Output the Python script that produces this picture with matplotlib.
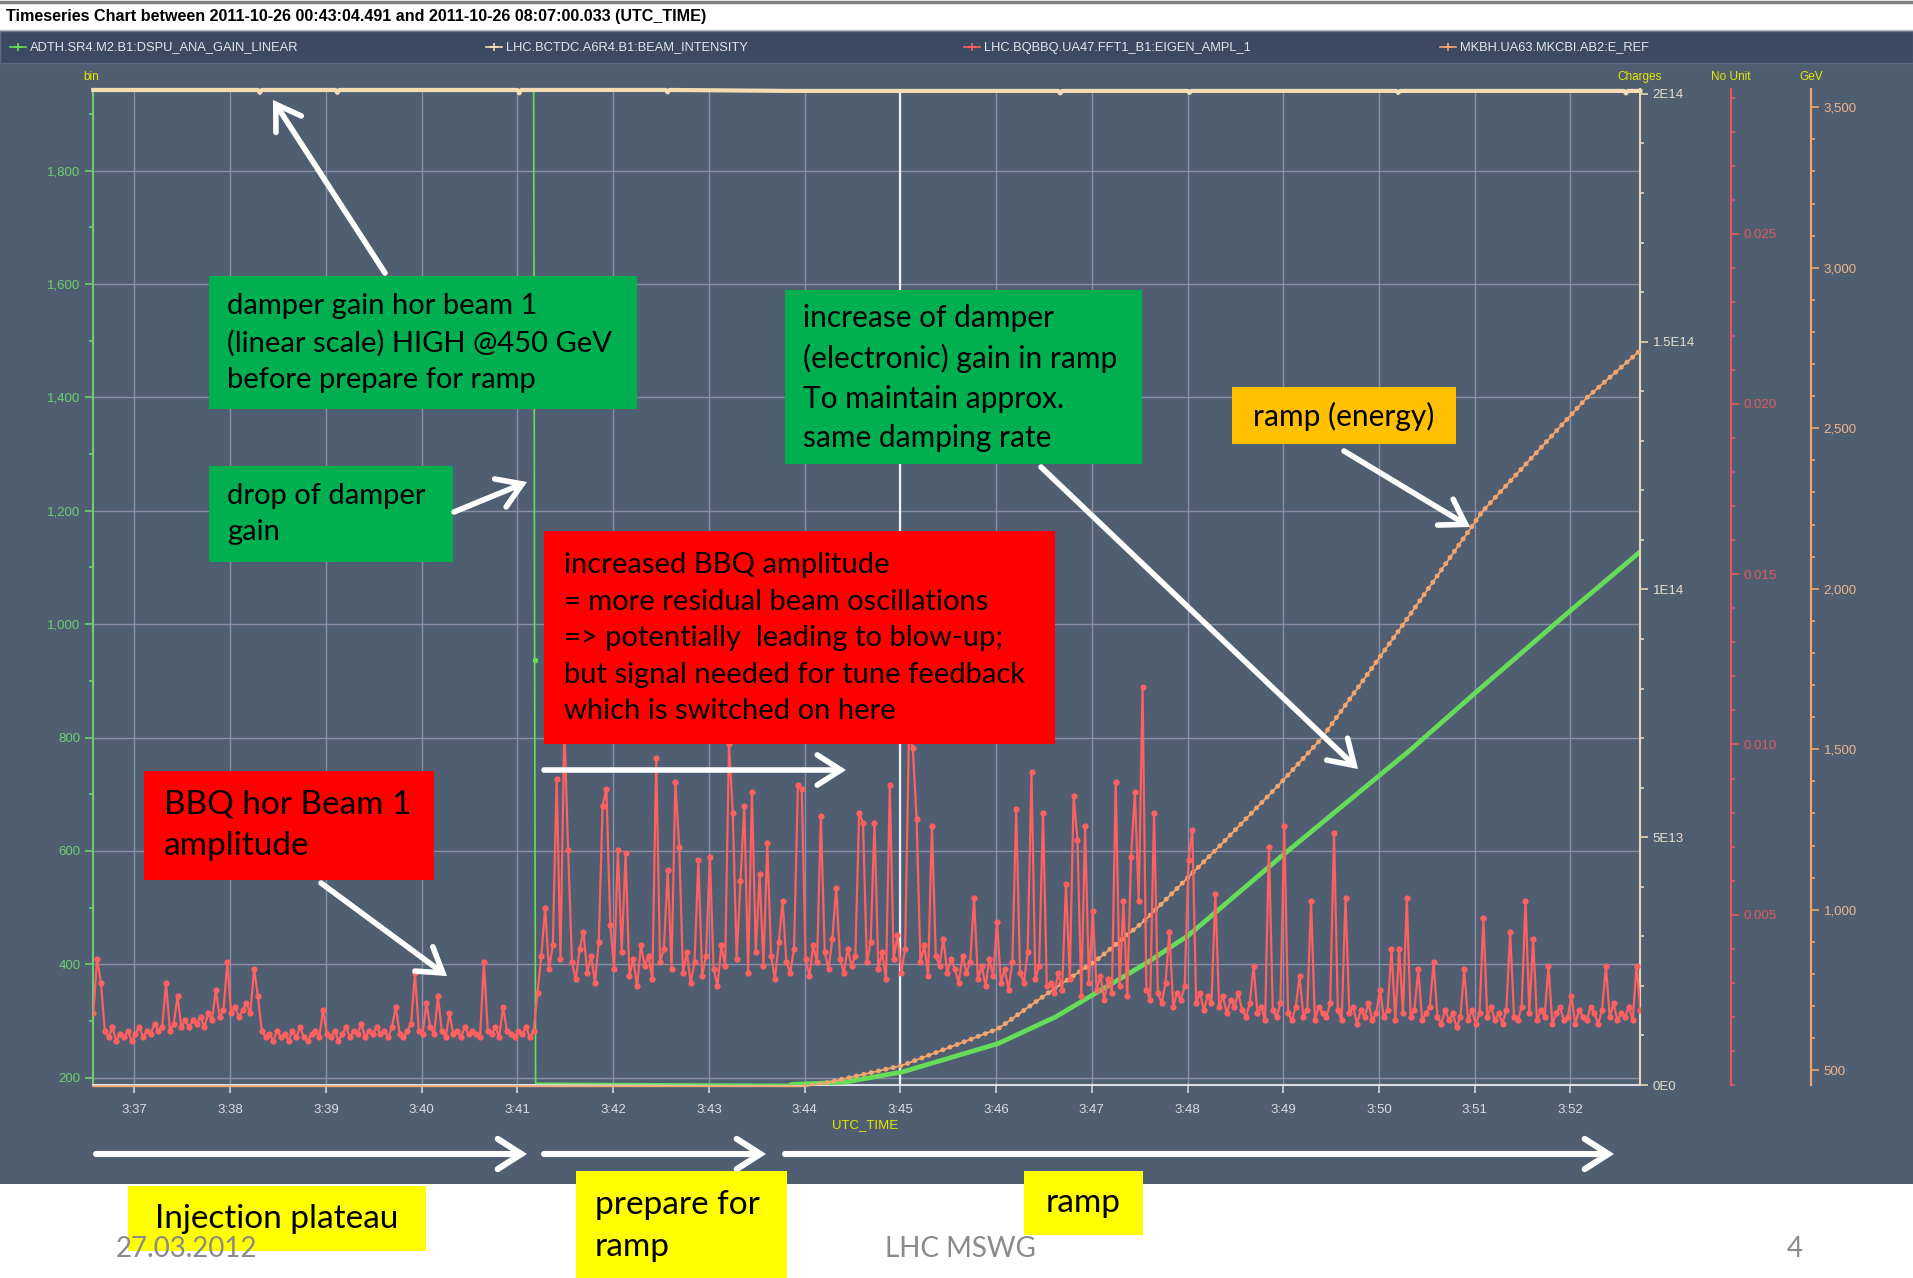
import numpy as np
import matplotlib.pyplot as plt
from matplotlib.patches import Rectangle, FancyArrowPatch
from matplotlib.lines import Line2D
from matplotlib.ticker import MultipleLocator, FuncFormatter

NARROW = ['Liberation Sans Narrow', 'Liberation Sans', 'DejaVu Sans']
SLIDE = ['Lato', 'DejaVu Sans']
plt.rcParams['font.family'] = NARROW

# ---------------------------------------------------------------- data
# time in minutes after 03:00 UTC
t_start, t_end = 36.567, 52.726
minute_ticks = list(range(37, 53))
minute_labels = ['3:%02d' % m for m in minute_ticks]
cursor_time = 45.0

# ADTH damper gain (bin)
gain_t = [36.57, 41.17, 41.18, 41.19, 43.86, 44.42, 45.02, 46.02, 46.62, 47.56,
          48.01, 48.97, 49.96, 50.32, 51.0, 52.0, 52.73]
gain_bin = [1940, 1940, 936, 190, 188, 192, 210, 260, 307, 401,
            451, 589, 727, 777, 878, 1024, 1128]
gain_ramp_from = 43.8

# BCTDC beam intensity (charges, in 1E14)
intensity_t = [36.57, 38.29, 38.31, 38.33, 39.10, 39.12, 39.14, 41.00, 41.02, 41.04,
               42.55, 42.57, 42.59, 43.85, 46.65, 46.67, 46.69, 48.00, 48.02, 48.04,
               50.18, 50.20, 50.22, 52.56, 52.58, 52.60, 52.73]
intensity_e14 = [2.008, 2.008, 2.002, 2.008, 2.008, 2.002, 2.008, 2.008, 2.001, 2.008,
                 2.008, 2.003, 2.008, 2.006, 2.006, 2.001, 2.006, 2.006, 2.002, 2.006,
                 2.006, 2.002, 2.006, 2.006, 2.001, 2.006, 2.006]

# E_REF beam energy (GeV)
energy_t = [36.57, 44.0, 44.22, 45.02, 46.02, 46.56, 47.05, 47.56, 48.01, 48.34,
            48.97, 49.40, 50.25, 51.08, 52.17, 52.73]
energy_gev = [450, 450, 460, 515, 629, 744, 843, 968, 1102, 1200,
              1394, 1534, 1888, 2241, 2595, 2743]
energy_ramp_from = 44.0

# BBQ eigen amplitude (no unit, in 1E-4), one row per minute, 2.4 s sampling
bbq_dt = 0.04
bbq_amp_e4 = [
    21, 37, 30, 16, 14, 17, 13, 15, 14, 16, 13, 15, 17, 14, 16, 15, 18, 16, 17, 30, 16, 18, 26, 17, 19,
    17, 19, 18, 20, 17, 21, 19, 28, 20, 22, 36, 21, 23, 20, 22, 24, 21, 34, 26, 16, 14, 15, 13, 16, 14,
    15, 13, 16, 14, 17, 14, 13, 15, 16, 14, 22, 15, 14, 16, 13, 15, 17, 14, 16, 15, 18, 14, 16, 15, 17,
    15, 16, 14, 17, 23, 15, 14, 16, 18, 33, 16, 15, 24, 17, 15, 26, 16, 14, 21, 15, 16, 14, 17, 15, 16,
    15, 14, 36, 16, 15, 17, 14, 23, 16, 15, 14, 16, 15, 17, 14, 16, 27, 38, 52, 34, 41, 90, 37, 105, 69,
    36, 31, 40, 45, 33, 38, 30, 42, 82, 87, 47, 34, 69, 39, 68, 32, 37, 29, 41, 35, 38, 31, 96, 36, 40,
    63, 34, 89, 70, 33, 39, 30, 36, 66, 32, 38, 67, 34, 29, 41, 35, 100, 80, 37, 60, 82, 33, 86, 39, 62,
    35, 71, 38, 31, 42, 54, 36, 33, 40, 88, 87, 37, 32, 41, 36, 79, 39, 34, 43, 58, 37, 33, 40, 35, 38,
    80, 77, 36, 42, 77, 34, 39, 31, 88, 37, 44, 33, 40, 103, 99, 78, 36, 41, 32, 76, 38, 35, 43, 33, 37,
    34, 30, 38, 33, 36, 55, 31, 35, 29, 37, 32, 48, 30, 34, 28, 36, 81, 33, 30, 39, 92, 31, 35, 80, 29,
    30, 27, 33, 28, 59, 31, 85, 72, 26, 76, 30, 51, 28, 32, 25, 31, 27, 89, 29, 54, 26, 67, 86, 54, 117,
    28, 25, 80, 27, 24, 30, 45, 23, 27, 25, 29, 66, 75, 24, 27, 22, 26, 24, 56, 23, 26, 21, 25, 23, 27,
    22, 20, 24, 35, 21, 23, 19, 70, 22, 20, 24, 76, 21, 19, 23, 32, 20, 22, 54, 19, 23, 21, 20, 24, 74,
    22, 19, 55, 21, 23, 18, 22, 20, 24, 19, 21, 28, 20, 22, 40, 19, 40, 21, 55, 20, 22, 34, 19, 21, 23,
    36, 20, 18, 22, 19, 21, 17, 20, 34, 19, 22, 18, 21, 49, 20, 23, 19, 21, 18, 22, 45, 20, 19, 23, 54,
    21, 43, 19, 22, 20, 35, 18, 21, 23, 19, 20, 26, 18, 22, 20, 19, 23, 21, 18, 22, 35, 20, 24, 19, 21,
    20, 23, 19, 35, 22,
]

legend_names = ['ADTH.SR4.M2.B1:DSPU_ANA_GAIN_LINEAR', 'LHC.BCTDC.A6R4.B1:BEAM_INTENSITY',
                'LHC.BQBBQ.UA47.FFT1_B1:EIGEN_AMPL_1', 'MKBH.UA63.MKCBI.AB2:E_REF']

# ---------------------------------------------------------------- colours
SLATE = '#505e72'
BAR = '#3c4962'
GRID = '#8a8ea6'
GREEN = '#66dd58'
GREEN_AX = '#6ccf6c'
BEIGE = '#f4ddb2'
RED = '#ff6060'
RED_AX = '#e05a5a'
ORANGE = '#f3a56e'
YEL = '#e6e600'
TICKTXT = '#d8dbe2'

W, H = 1913, 1278


def fxy(x, y):
    return x / W, 1 - y / H


fig = plt.figure(figsize=(W / 100, H / 100), dpi=100)
fig.patch.set_facecolor('white')

# chart panel, legend bar and title bar
fig.add_artist(Rectangle(fxy(0, 1184), 1, (1184 - 63) / H, transform=fig.transFigure,
                         facecolor=SLATE, edgecolor='none', zorder=-2))
fig.add_artist(Rectangle(fxy(0, 63), 1, (63 - 31) / H, transform=fig.transFigure,
                         facecolor=BAR, edgecolor='#5b6986', lw=1, zorder=-2))
fig.add_artist(Line2D([0, 1], [1 - 1.5 / H] * 2, transform=fig.transFigure, color='#808080', lw=2.5))
fig.add_artist(Line2D([0, 1], [1 - 30 / H] * 2, transform=fig.transFigure, color='#b8b8b8', lw=1))
fig.text(*fxy(6, 17), 'Timeseries Chart between 2011-10-26 00:43:04.491 and 2011-10-26 08:07:00.033 (UTC_TIME)',
         fontsize=11.6, fontweight='bold', va='center', ha='left', color='black')

legend_x = [10, 486, 964, 1440]
legend_cols = [GREEN, BEIGE, RED, ORANGE]
for lx, name, col in zip(legend_x, legend_names, legend_cols):
    fig.add_artist(Line2D([lx / W, (lx + 16) / W], [1 - 47 / H] * 2, transform=fig.transFigure,
                          color=col, lw=1.2))
    fig.add_artist(Line2D([(lx + 8) / W], [1 - 47 / H], transform=fig.transFigure,
                          color=col, marker='+', ms=6, mew=1.2))
    fig.text(*fxy(lx + 20, 47.5), name, fontsize=9.3, color='#e2e5ec', va='center', ha='left')

# ---------------------------------------------------------------- axes
ax = fig.add_axes([93 / W, 1 - 1085 / H, (1640 - 93) / W, (1085 - 89) / H])
ax.set_facecolor('none')
ax.set_xlim(t_start, t_end)
ax.set_ylim(187, 1944)

charges = ax.twinx()
gev = ax.twinx()
nounit = ax.twinx()

for a in (charges, gev, nounit):
    for s in ('left', 'top', 'bottom'):
        a.spines[s].set_visible(False)
for s in ('top', 'right'):
    ax.spines[s].set_visible(False)
ax.spines['left'].set_color(GREEN_AX)
ax.spines['left'].set_linewidth(1.5)
ax.spines['bottom'].set_color('#dcdde6')
ax.spines['bottom'].set_linewidth(1.5)

ax.set_xticks(minute_ticks, minute_labels)
ax.tick_params(axis='x', colors='#d0d3da', labelcolor=TICKTXT, labelsize=9.5, length=6, width=1.2, pad=8)
ax.yaxis.set_major_locator(MultipleLocator(200))
ax.yaxis.set_minor_locator(MultipleLocator(100))
ax.yaxis.set_major_formatter(FuncFormatter(lambda v, p: f'{v:,.0f}'))
ax.tick_params(axis='y', which='major', colors=GREEN_AX, labelsize=9.5, length=6, width=1.2, pad=3)
ax.tick_params(axis='y', which='minor', colors=GREEN_AX, length=3, width=1.2)
ax.grid(True, which='major', color=GRID, lw=1)
ax.set_axisbelow(True)
ax.axvline(cursor_time, color='#eeeef4', lw=1.6, zorder=1)

charges.set_ylim(0, 2.0099e14)
charges.set_yticks([0, 5e13, 1e14, 1.5e14, 2e14], ['0E0', '5E13', '1E14', '1.5E14', '2E14'])
charges.yaxis.set_minor_locator(MultipleLocator(1e13))
charges.spines['right'].set_color('#e8d7b0')
charges.spines['right'].set_linewidth(1.5)
charges.tick_params(axis='y', which='major', colors='#e8d7b0', labelcolor='#e6dcc8', labelsize=9.5, length=6, width=1.2, pad=3)
charges.tick_params(axis='y', which='minor', colors='#e8d7b0', length=3, width=1.2)

nounit.set_ylim(0, 0.02925)
nounit.spines['right'].set_position(('axes', 1.0586))
nounit.set_yticks([0.005, 0.010, 0.015, 0.020, 0.025], ['0.005', '0.010', '0.015', '0.020', '0.025'])
nounit.yaxis.set_minor_locator(MultipleLocator(0.001))
nounit.spines['right'].set_color(RED_AX)
nounit.spines['right'].set_linewidth(1.5)
nounit.tick_params(axis='y', which='major', colors=RED_AX, labelsize=9.5, length=6, width=1.2, pad=3)
nounit.tick_params(axis='y', which='minor', colors=RED_AX, length=3, width=1.2)

gev.set_ylim(454, 3557)
gev.spines['right'].set_position(('axes', 1.1106))
gev.set_yticks(range(500, 4000, 500), [f'{v:,}' for v in range(500, 4000, 500)])
gev.yaxis.set_minor_locator(MultipleLocator(100))
gev.spines['right'].set_color(ORANGE)
gev.spines['right'].set_linewidth(1.5)
gev.tick_params(axis='y', which='major', colors=ORANGE, labelcolor='#f0b48a', labelsize=9.5, length=6, width=1.2, pad=3)
gev.tick_params(axis='y', which='minor', colors=ORANGE, length=3, width=1.2)

# ---------------------------------------------------------------- series
gain_t_arr = np.array(gain_t)
gain_bin_arr = np.array(gain_bin)
ax.plot(gain_t_arr, gain_bin_arr, color=GREEN, lw=1.2, zorder=3)
on_ramp = gain_t_arr >= gain_ramp_from
ax.plot(gain_t_arr[on_ramp], gain_bin_arr[on_ramp], color=GREEN, lw=3.4,
        solid_capstyle='round', solid_joinstyle='round', zorder=3)
ax.plot([gain_t[2]], [gain_bin[2]], 'o', color=GREEN, ms=3, zorder=3)

charges.plot(intensity_t, np.array(intensity_e14) * 1e14, color=BEIGE, lw=3.0, clip_on=False)

energy_t_arr = np.array(energy_t)
energy_arr = np.array(energy_gev)
gev.plot(energy_t_arr, energy_arr, color=ORANGE, lw=1.3, clip_on=False)
rising = energy_t_arr >= energy_ramp_from
gev.plot(energy_t_arr[rising], energy_arr[rising], color=ORANGE, lw=3.6,
         linestyle=(0, (0.01, 1.5)), dash_capstyle='round')

bbq_amp = np.array(bbq_amp_e4) * 1e-4
bbq_t = 36.57 + bbq_dt * np.arange(len(bbq_amp))
nounit.plot(bbq_t, bbq_amp, color=RED, lw=1.6, marker='o', ms=4.5, mew=0)

# axis unit labels
for x, lab in [(91, 'bin'), (1640, 'Charges'), (1731, 'No Unit'), (1811, 'GeV')]:
    fig.text(*fxy(x, 77), lab, color=YEL, fontsize=8.5, ha='center', va='center')
fig.text(*fxy(865, 1125), 'UTC_TIME', color=YEL, fontsize=9.5, ha='center', va='center')


# ---------------------------------------------------------------- notes on top
def note_box(x0, y0, x1, y1, color, text, tx, ty, size, ha='left', ls=1.5):
    fig.add_artist(Rectangle(fxy(x0, y1), (x1 - x0) / W, (y1 - y0) / H, transform=fig.transFigure,
                             facecolor=color, edgecolor='none', zorder=20))
    fig.text(*fxy(tx, ty), text, ha=ha, va='center', fontsize=size, family=SLIDE,
             color='black', linespacing=ls, zorder=21)


def white_arrow(x0, y0, x1, y1, lw=4.0):
    fig.add_artist(FancyArrowPatch(fxy(x0, y0), fxy(x1, y1), transform=fig.transFigure,
                                   arrowstyle='->,head_length=0.5,head_width=0.32', mutation_scale=34,
                                   lw=lw, color='white', shrinkA=0, shrinkB=0, zorder=22,
                                   joinstyle='miter', capstyle='round'))


note_box(209, 276, 637, 409, '#00b050',
         'damper gain hor beam 1\n(linear scale) HIGH @450 GeV\nbefore prepare for ramp', 227, 343, 21)
note_box(209, 466, 453, 562, '#00b050', 'drop of damper\ngain', 227, 514, 21)
note_box(785, 290, 1142, 464, '#00b050',
         'increase of damper\n(electronic) gain in ramp\nTo maintain approx.\nsame damping rate', 803, 378, 21.5)
note_box(1232, 387, 1456, 444, '#ffc000', 'ramp (energy)', 1344, 416, 21.5, ha='center')
note_box(544, 531, 1055, 744, '#ff0000',
         'increased BBQ amplitude\n= more residual beam oscillations\n=> potentially  leading to blow-up;\n'
         'but signal needed for tune feedback\nwhich is switched on here', 564, 638, 21)
note_box(144, 771, 434, 880, '#ff0000', 'BBQ hor Beam 1\namplitude', 164, 825, 24, ls=1.46)

white_arrow(385, 273, 273, 100)
white_arrow(454, 512, 527, 482)
white_arrow(1041, 467, 1358, 769)
white_arrow(1344, 451, 1470, 527)
white_arrow(321, 883, 447, 976)
white_arrow(544, 770, 846, 770)

# phases along the time axis
white_arrow(96, 1154, 527, 1154, lw=4.4)
white_arrow(544, 1154, 766, 1154, lw=4.4)
white_arrow(785, 1154, 1614, 1154, lw=4.4)

note_box(128, 1186, 426, 1251, '#ffff00', 'Injection plateau', 277, 1219, 24, ha='center')
note_box(576, 1171, 787, 1278, '#ffff00', 'prepare for\nramp', 595, 1226, 24, ls=1.47)
note_box(1024, 1171, 1143, 1235, '#ffff00', 'ramp', 1083, 1203, 24, ha='center')

for x, txt, ha in [(116, '27.03.2012', 'left'), (960, 'LHC MSWG', 'center'), (1795, '4', 'center')]:
    fig.text(*fxy(x, 1249), txt, color='#8a8a8a', fontsize=20, family=SLIDE, ha=ha, va='center', zorder=25)

fig.savefig('out.png', dpi=100, facecolor='white')
